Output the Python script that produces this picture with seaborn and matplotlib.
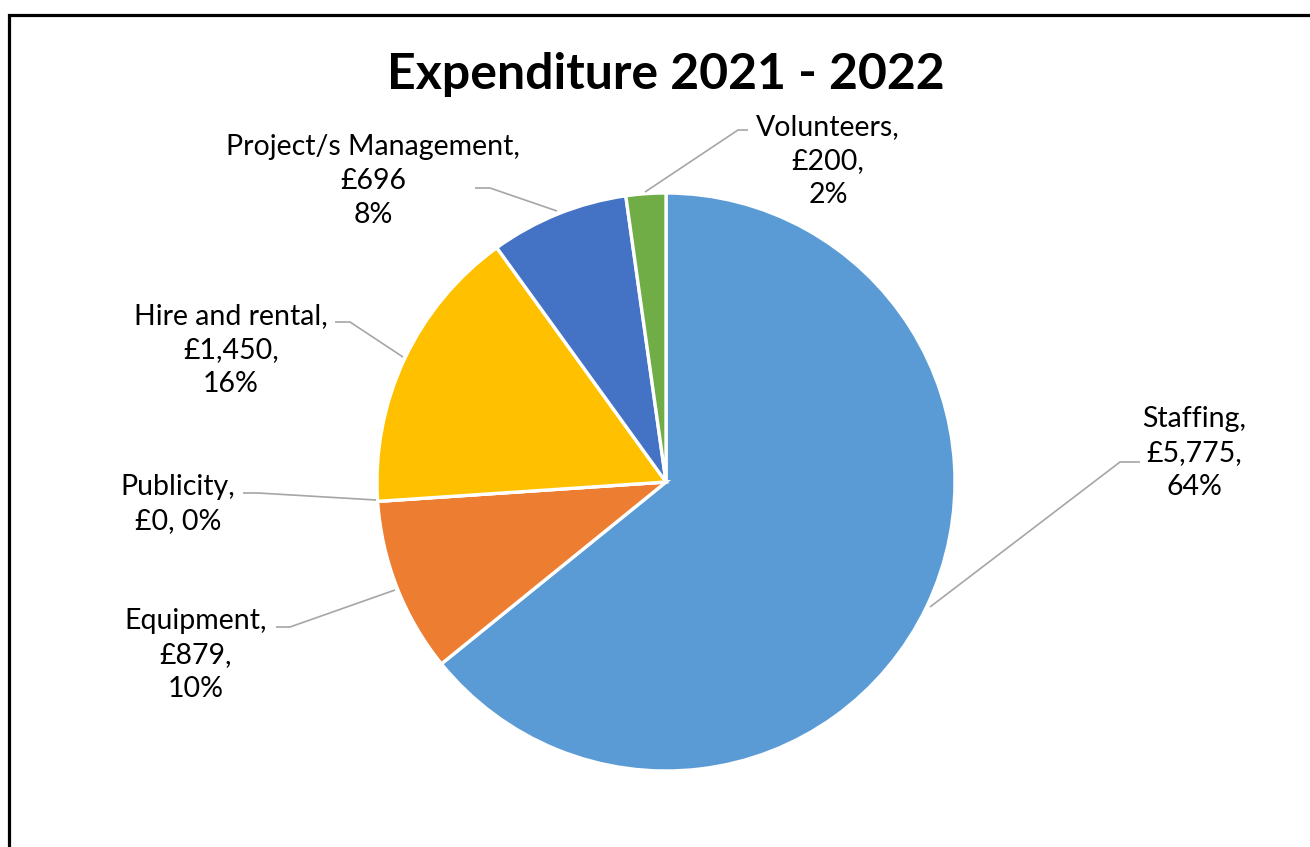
import matplotlib
matplotlib.use("Agg")
import matplotlib.pyplot as plt
from matplotlib.patches import Rectangle
import seaborn as sns

categories = ["Staffing", "Equipment", "Publicity", "Hire and rental", "Project/s Management", "Volunteers"]
values = [5775, 879, 0, 1450, 696, 200]
label_texts = ["Staffing,\n£5,775,\n64%", "Equipment,\n£879,\n10%", "Publicity,\n£0, 0%",
               "Hire and rental,\n£1,450,\n16%", "Project/s Management,\n£696\n8%", "Volunteers,\n£200,\n2%"]
colors = ["#5B9BD5", "#ED7D31", "#A5A5A5", "#FFC000", "#4472C4", "#70AD47"]
title = "Expenditure 2021 - 2022"

sns.set_theme(style="white")
plt.rcParams['font.family'] = ['Lato', 'DejaVu Sans']

W, H = 1310, 847
fig = plt.figure(figsize=(W / 100, H / 100), dpi=100)
ax = fig.add_axes([0, 0, 1, 1])

cx, cy, r = 666, H - 482, 289
ax.pie(values, colors=colors, startangle=90, counterclock=False,
       center=(cx, cy), radius=r,
       wedgeprops=dict(edgecolor="white", linewidth=2.4))
ax.set_xlim(0, W)
ax.set_ylim(0, H)
ax.set_aspect('equal', adjustable='box')
ax.axis('off')

# label layout (pixel positions): text center, leader line points
layout = [
    ((1194, 453), [(1140, 462), (1120, 462), (930, 607)]),
    ((196, 655), [(276, 627), (290, 627), (395, 590)]),
    ((178, 504), [(243, 493), (258, 493), (376, 500)]),
    ((231, 350), [(335, 322), (350, 322), (403, 357)]),
    ((373, 181), [(475, 188), (490, 188), (557, 211)]),
    ((828, 161), [(748, 130), (738, 130), (645, 192)]),
]
for txt, ((tx, ty), pts) in zip(label_texts, layout):
    ax.text(tx, H - ty, txt, ha="center", va="center", fontsize=20.5,
            color="#000000", linespacing=1.36)
    xs = [p[0] for p in pts]
    ys = [H - p[1] for p in pts]
    ax.plot(xs, ys, color="#A6A6A6", linewidth=1.2, solid_capstyle="butt")

ax.text(666, H - 74, title, ha="center", va="center", fontsize=36,
        fontweight="bold", color="#000000")

fig.patches.append(Rectangle((9 / W, 0 - 0.05), 1.1, (H - 15) / H + 0.05,
                             transform=fig.transFigure, fill=False,
                             edgecolor="black", linewidth=2.3))

fig.savefig("out.png", dpi=100)
